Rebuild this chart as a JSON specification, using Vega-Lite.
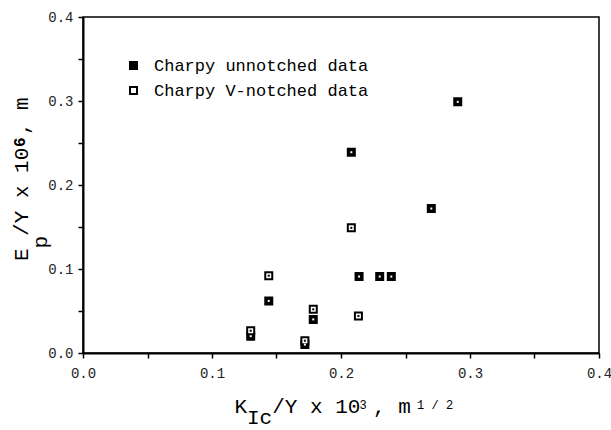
{
  "$schema": "https://vega.github.io/schema/vega-lite/v6.json",
  "width": 516,
  "height": 336,
  "autosize": {"type": "none"},
  "padding": {"left": 83, "top": 17, "right": 12, "bottom": 77},
  "background": "white",
  "config": {
    "view": {"stroke": "black", "strokeWidth": 1.5},
    "axis": {
      "labelFont": "Liberation Mono",
      "titleFont": "Liberation Mono",
      "grid": false,
      "domainColor": "black",
      "tickColor": "black",
      "titleFontWeight": "normal",
      "titleColor": "black",
      "labelColor": "#222222",
      "titleLimit": 0
    },
    "legend": {
      "labelFont": "Liberation Mono",
      "labelFontSize": 17,
      "labelColor": "black",
      "labelLimit": 0
    }
  },
  "data": {
    "values": [
      {"series": "Charpy unnotched data", "kic": 0.130, "ep": 0.020},
      {"series": "Charpy unnotched data", "kic": 0.144, "ep": 0.062},
      {"series": "Charpy unnotched data", "kic": 0.172, "ep": 0.010},
      {"series": "Charpy unnotched data", "kic": 0.1785, "ep": 0.040},
      {"series": "Charpy unnotched data", "kic": 0.208, "ep": 0.239},
      {"series": "Charpy unnotched data", "kic": 0.214, "ep": 0.091},
      {"series": "Charpy unnotched data", "kic": 0.230, "ep": 0.091},
      {"series": "Charpy unnotched data", "kic": 0.239, "ep": 0.091},
      {"series": "Charpy unnotched data", "kic": 0.270, "ep": 0.172},
      {"series": "Charpy unnotched data", "kic": 0.2905, "ep": 0.299},
      {"series": "Charpy V-notched data", "kic": 0.130, "ep": 0.0265},
      {"series": "Charpy V-notched data", "kic": 0.144, "ep": 0.092},
      {"series": "Charpy V-notched data", "kic": 0.172, "ep": 0.0146},
      {"series": "Charpy V-notched data", "kic": 0.1785, "ep": 0.052},
      {"series": "Charpy V-notched data", "kic": 0.208, "ep": 0.149},
      {"series": "Charpy V-notched data", "kic": 0.2135, "ep": 0.044}
    ]
  },
  "layer": [
    {
      "transform": [{"filter": "datum.series == 'Charpy unnotched data'"}],
      "mark": {"type": "square", "filled": true, "size": 49, "stroke": "black", "strokeWidth": 2, "opacity": 1},
      "encoding": {
        "x": {
          "field": "kic", "type": "quantitative",
          "scale": {"domain": [0, 0.4], "nice": false, "zero": false},
          "axis": {
            "orient": "bottom",
            "values": [0, 0.05, 0.1, 0.15, 0.2, 0.25, 0.3, 0.35, 0.4],
            "labelExpr": "round(datum.value * 100) % 10 == 0 ? format(datum.value, '.1f') : ''",
            "labelFlush": false,
            "labelOverlap": false,
            "labelFontSize": 14,
            "labelPadding": 8,
            "tickSize": 5,
            "tickWidth": 1.5,
            "domainWidth": 2,
            "title": "\u200bK\u00a0\u00a0/Y x 10\u00a0, m\u00a0\u00a0\u00a0\u200b",
            "titleFontSize": 21,
            "titleBaseline": "alphabetic",
            "titlePadding": 32
          }
        },
        "y": {
          "field": "ep", "type": "quantitative",
          "scale": {"domain": [0, 0.4], "nice": false, "zero": false},
          "axis": {
            "orient": "left",
            "values": [0, 0.05, 0.1, 0.15, 0.2, 0.25, 0.3, 0.35, 0.4],
            "labelExpr": "round(datum.value * 100) % 10 == 0 ? format(datum.value, '.1f') : ''",
            "labelFlush": false,
            "labelOverlap": false,
            "labelFontSize": 14,
            "labelPadding": 5,
            "tickSize": 5,
            "tickWidth": 1.5,
            "domainWidth": 2,
            "title": "\u200b\u00a0E\u00a0/Y x 10\u00a0, m\u200b",
            "titleFontSize": 21,
            "titleBaseline": "alphabetic",
            "titlePadding": 20
          }
        },
        "fill": {
          "field": "series", "type": "nominal",
          "scale": {"domain": ["Charpy unnotched data", "Charpy V-notched data"], "range": ["black", "white"]},
          "legend": {
            "title": null,
            "orient": "none",
            "legendX": 42,
            "legendY": 40,
            "padding": 0,
            "symbolType": "square",
            "symbolSize": 49,
            "symbolStrokeColor": "black",
            "symbolStrokeWidth": 2,
            "symbolOpacity": 1,
            "labelOffset": 12,
            "rowPadding": 7
          }
        }
      }
    },
    {
      "transform": [{"filter": "datum.series == 'Charpy V-notched data'"}],
      "mark": {"type": "square", "filled": true, "size": 49, "stroke": "black", "strokeWidth": 2, "opacity": 1},
      "encoding": {
        "x": {
          "field": "kic", "type": "quantitative",
          "scale": {"domain": [0, 0.4], "nice": false, "zero": false},
          "axis": {
            "orient": "bottom",
            "domain": false, "ticks": false, "labels": false,
            "title": "\u200b\u00a0Ic\u00a0\u00a0\u00a0\u00a0\u00a0\u00a0\u00a0\u00a0\u00a0\u00a0\u00a0\u00a0\u00a0\u00a0\u200b",
            "titleFontSize": 21,
            "titleBaseline": "alphabetic",
            "titlePadding": 70
          }
        },
        "y": {
          "field": "ep", "type": "quantitative",
          "scale": {"domain": [0, 0.4], "nice": false, "zero": false},
          "axis": {
            "orient": "left",
            "domain": false, "ticks": false, "labels": false,
            "title": "\u200b\u00a0\u00a0p\u00a0\u00a0\u00a0\u00a0\u00a0\u00a0\u00a0\u00a0\u00a0\u00a0\u00a0\u200b",
            "titleFontSize": 21,
            "titleBaseline": "alphabetic",
            "titlePadding": 37
          }
        },
        "fill": {
          "field": "series", "type": "nominal",
          "scale": {"domain": ["Charpy unnotched data", "Charpy V-notched data"], "range": ["black", "white"]}
        }
      }
    },
    {
      "mark": {"type": "square", "filled": true, "size": 4, "opacity": 1},
      "encoding": {
        "x": {
          "field": "kic", "type": "quantitative",
          "scale": {"domain": [0, 0.4], "nice": false, "zero": false},
          "axis": {
            "orient": "bottom",
            "domain": false, "ticks": false, "labels": false,
            "title": "\u200b\u00a0\u00a0\u00a0\u00a0\u00a0\u00a0\u00a0\u00a0\u00a0\u00a0\u00a0\u00a0\u00a0\u00a0\u00a0\u00a0\u00a0\u00a03\u00a0\u00a0\u00a0\u00a0\u00a0\u00a0\u00a01\u00a0/\u00a02\u200b",
            "titleFontSize": 12,
            "titleBaseline": "alphabetic",
            "titlePadding": 55
          }
        },
        "y": {
          "field": "ep", "type": "quantitative",
          "scale": {"domain": [0, 0.4], "nice": false, "zero": false},
          "axis": {
            "orient": "left",
            "domain": false, "ticks": false, "labels": false,
            "title": "\u200b\u00a0\u00a0\u00a0\u00a0\u00a0\u00a0\u00a0\u00a0\u00a0\u00a0\u00a0\u00a0\u00a06\u00a0\u00a0\u00a0\u00a0\u200b",
            "titleFontSize": 16,
            "titleFontWeight": "bold",
            "titleBaseline": "alphabetic",
            "titlePadding": 59
          }
        },
        "fill": {
          "condition": {"test": "datum.series == 'Charpy unnotched data'", "value": "white"},
          "value": "black"
        }
      }
    }
  ],
  "resolve": {"axis": {"x": "independent", "y": "independent"}}
}
